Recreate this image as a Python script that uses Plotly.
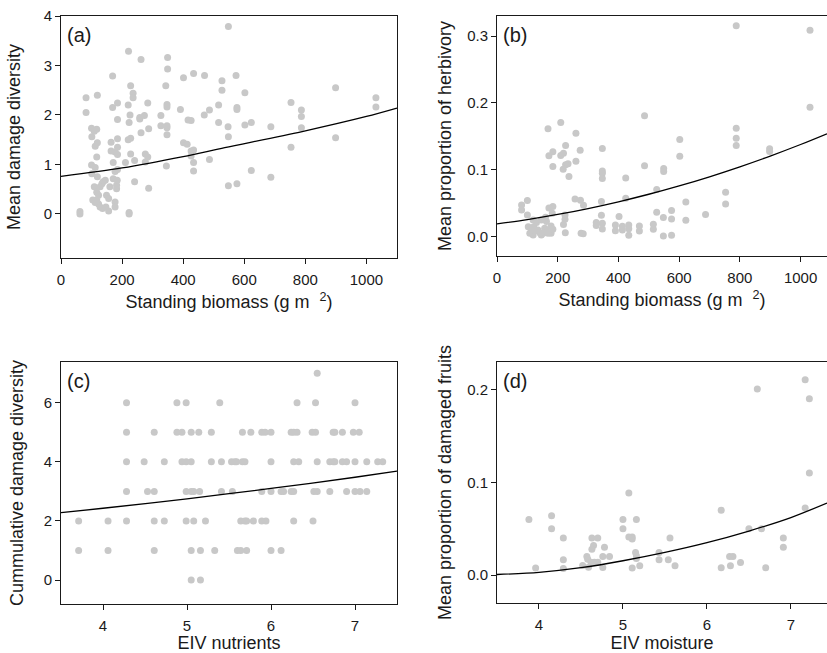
import plotly.graph_objects as go

# ---------------- Panel (a): mean damage diversity vs standing biomass
a_x = [548, 221, 262, 349, 349, 169, 82, 119, 228, 236, 236, 343, 401, 434, 470, 527, 527, 573, 602,
       82, 169, 185, 220, 284, 347, 347, 391, 486, 516, 576, 576, 185, 223, 226, 258, 258, 273, 327,
       416, 426, 469, 516, 602, 623, 547, 687, 753, 787, 787, 787, 899, 1031, 1031, 899, 753, 548,
       327, 347, 347, 347, 287, 262, 220, 228, 185, 164, 185, 164, 177, 185, 171, 177, 185, 211, 228,
       241, 276, 276, 284, 345, 401, 413, 426, 434, 426, 434, 434, 486, 623, 687, 548, 576, 241, 287,
       223, 223, 62, 62, 100, 109, 117, 101, 119, 112, 100, 112, 117, 101, 119, 109, 117, 123, 104,
       112, 123, 128, 136, 147, 156, 138, 145, 134, 160, 149, 156, 177, 177, 182, 182, 184, 171, 128, 117]
a_y = [3.79, 3.29, 3.12, 3.16, 2.93, 2.79, 2.35, 2.40, 2.59, 2.44, 2.35, 2.59, 2.75, 2.84, 2.80, 2.69, 2.50, 2.80, 2.45,
       2.05, 2.15, 2.24, 2.20, 2.24, 2.16, 2.21, 2.11, 2.10, 2.20, 2.15, 2.11, 1.91, 1.85, 2.00, 1.92, 1.95, 1.99, 1.99,
       1.90, 1.89, 2.00, 1.85, 1.80, 1.85, 1.76, 1.76, 2.25, 2.10, 1.97, 1.74, 2.55, 2.35, 2.16, 1.54, 1.35, 1.56,
       1.78, 1.74, 1.60, 1.78, 1.72, 1.64, 1.50, 1.53, 1.52, 1.45, 1.35, 1.27, 1.25, 1.20, 1.04, 0.86, 0.90, 1.04, 1.21,
       1.08, 1.21, 1.05, 1.15, 0.97, 1.44, 1.41, 1.27, 1.29, 1.17, 1.04, 0.87, 1.10, 0.88, 0.74, 0.57, 0.61, 0.65, 0.52,
       0.03, 0.00, 0.05, 0.00, 1.73, 1.67, 1.71, 1.56, 1.44, 1.37, 0.99, 0.94, 1.15, 0.81, 0.75, 0.55, 0.44, 0.38, 0.28,
       0.23, 0.20, 0.14, 0.11, 0.14, 0.06, 0.65, 0.68, 0.61, 0.55, 0.38, 0.31, 0.24, 0.14, 0.51, 0.58, 0.68, 0.71, 0.55, 0.28]
a_fit_x = [0, 200, 400, 536, 786, 1000, 1100]
a_fit_y = [0.76, 0.93, 1.16, 1.34, 1.66, 1.97, 2.14]

# ---------------- Panel (b): mean proportion of herbivory vs standing biomass
b_x = [788, 1031, 1031, 788, 788, 788, 898, 898, 753, 753, 687, 622, 622, 602, 602, 575, 575, 575, 548, 548,
       549, 549, 526, 526, 515, 515, 486, 486, 469, 469, 434, 434, 434, 413, 413, 424, 424, 402, 390, 390,
       347, 347, 347, 347, 344, 344, 347, 347, 327, 327, 285, 275, 257, 277, 284, 260, 274, 260, 234, 226,
       237, 226, 210, 219, 210, 218, 168, 171, 184, 184, 224, 224, 219, 225, 184, 171, 182, 178, 178, 184,
       81, 81, 100, 100, 119, 119, 130, 146, 146, 157, 163, 163, 114, 121, 135, 108, 152, 168, 141, 124, 103, 160]
b_y = [0.3155, 0.3085, 0.1935, 0.162, 0.147, 0.136, 0.131, 0.127, 0.066, 0.0485, 0.0325, 0.0515, 0.024, 0.145, 0.12,
       0.0385, 0.026, 0.0015, 0.028, 0.0005, 0.1015, 0.097, 0.07, 0.036, 0.018, 0.0105, 0.1805, 0.1055, 0.0155, 0.008,
       0.017, 0.0115, 0.0015, 0.015, 0.0095, 0.0875, 0.057, 0.0295, 0.017, 0.0085, 0.1315, 0.098, 0.0945, 0.0865,
       0.052, 0.0315, 0.0195, 0.011, 0.0205, 0.016, 0.0465, 0.054, 0.056, 0.0045, 0.004, 0.1545, 0.129, 0.1125,
       0.1085, 0.107, 0.0895, 0.136, 0.1705, 0.1245, 0.121, 0.1005, 0.161, 0.1205, 0.1265, 0.1045, 0.032, 0.0255,
       0.0175, 0.0055, 0.0445, 0.0425, 0.0345, 0.0155, 0.0045, 0.0105, 0.047, 0.0395, 0.0535, 0.032, 0.0245, 0.002,
       0.0205, 0.0245, 0.002, 0.012, 0.022, 0.0095, 0.0095, 0.0145, 0.0095, 0.0045, 0.0045, 0.0045, 0.0055, 0.008,
       0.0145, 0.0285]
b_fit_x = [0, 100, 200, 300, 400, 500, 600, 700, 800, 900, 1000, 1087]
b_fit_y = [0.0185, 0.0250, 0.0327, 0.0416, 0.0517, 0.0630, 0.0755, 0.0892, 0.1041, 0.1202, 0.1375, 0.1536]

# ---------------- Panel (c): cumulative damage diversity vs EIV nutrients
c_x = [6.55,
       4.28, 4.88, 4.99, 5.39, 6.31, 6.53, 7.00,
       4.28, 4.61, 4.88, 4.94, 5.05, 5.14, 5.29, 5.66, 5.76, 5.89, 5.93, 6.00, 6.24, 6.27, 6.31, 6.49, 6.53,
       6.74, 6.76, 6.85, 6.98, 7.05,
       4.28, 4.49, 4.73, 4.94, 4.99, 5.05, 5.29, 5.41, 5.53, 5.57, 5.59, 5.66, 5.69, 6.00, 6.27, 6.33, 6.55,
       6.70, 6.74, 6.76, 6.85, 6.90, 7.00, 7.14, 7.27, 7.33,
       4.28, 4.53, 4.61, 4.99, 5.05, 5.08, 5.15, 5.41, 5.54, 5.89, 6.00, 6.12, 6.15, 6.24, 6.27, 6.51, 6.55,
       6.70, 6.90, 7.00, 7.06, 7.14,
       3.71, 4.06, 4.28, 4.61, 4.73, 4.99, 5.08, 5.22, 5.64, 5.69, 5.71, 5.79, 5.89, 5.94, 6.27, 6.50,
       3.71, 4.06, 4.61, 5.05, 5.16, 5.33, 5.60, 5.64, 5.71, 6.00, 6.12,
       5.05, 5.16]
c_y = [7,
       6, 6, 6, 6, 6, 6, 6,
       5, 5, 5, 5, 5, 5, 5, 5, 5, 5, 5, 5, 5, 5, 5, 5, 5, 5, 5, 5, 5, 5,
       4, 4, 4, 4, 4, 4, 4, 4, 4, 4, 4, 4, 4, 4, 4, 4, 4, 4, 4, 4, 4, 4, 4, 4, 4, 4,
       3, 3, 3, 3, 3, 3, 3, 3, 3, 3, 3, 3, 3, 3, 3, 3, 3, 3, 3, 3, 3, 3,
       2, 2, 2, 2, 2, 2, 2, 2, 2, 2, 2, 2, 2, 2, 2, 2,
       1, 1, 1, 1, 1, 1, 1, 1, 1, 1, 1,
       0, 0]
c_fit_x = [3.5, 4.0, 5.0, 6.0, 7.0, 7.5]
c_fit_y = [2.28, 2.43, 2.75, 3.10, 3.48, 3.69]

# ---------------- Panel (d): mean proportion of damaged fruits vs EIV moisture
d_x = [7.17, 6.60, 7.22, 7.22, 7.17, 6.17, 6.65, 6.50, 6.91, 6.91, 6.40, 6.27, 6.31, 6.28, 6.17, 6.70,
       5.07, 5.00, 5.16, 5.00, 5.07, 5.11, 5.11, 5.15, 5.16, 5.16, 5.20, 5.11, 5.56, 5.43, 5.43, 5.54, 5.62,
       3.88, 3.96, 4.15, 4.15, 4.29, 4.29, 4.29, 4.63, 4.70, 4.65, 4.63, 4.78, 4.76, 4.84, 4.57, 4.58, 4.62,
       4.66, 4.70, 4.52, 4.59, 4.76]
d_y = [0.2104, 0.2004, 0.190, 0.110, 0.0723, 0.070, 0.050, 0.050, 0.040, 0.030, 0.0137, 0.020, 0.020, 0.010,
       0.008, 0.008, 0.0885, 0.060, 0.060, 0.050, 0.041, 0.041, 0.039, 0.0245, 0.021, 0.018, 0.010, 0.0076,
       0.040, 0.0245, 0.0165, 0.0165, 0.010, 0.060, 0.0076, 0.064, 0.050, 0.040, 0.0165, 0.0072, 0.040, 0.040,
       0.032, 0.028, 0.030, 0.020, 0.020, 0.020, 0.017, 0.014, 0.014, 0.014, 0.0104, 0.0086, 0.0083]
d_fit_x = [3.5, 4.0, 4.5, 5.0, 5.5, 6.0, 6.5, 7.0, 7.43]
d_fit_y = [0.0007, 0.0030, 0.0080, 0.0155, 0.0245, 0.0350, 0.0475, 0.0620, 0.0776]

W, H = 827, 653
FONT = "Arial, Liberation Sans, Helvetica, sans-serif"
DOT = "#c8c8c8"
INK = "#1a1a1a"


def xd(p0, p1):
    return [p0 / W, p1 / W]


def yd(top, bottom):
    return [1 - bottom / H, 1 - top / H]


panels = [
    # xs, ys, fitx, fity, xdomain, ydomain, xrange, yrange, xticks, yticks, yfmt, xtitle, ytitle, label, ymirror, ystandoff
    (a_x, a_y, a_fit_x, a_fit_y, xd(61, 397), yd(16, 258), [0, 1100], [-0.89, 4.0],
     [0, 200, 400, 600, 800, 1000], [0, 1, 2, 3, 4], "", "Standing biomass (g m\u00a0\u00a0<sup>2</sup>)",
     "Mean damage diversity", "(a)", True, 18),
    (b_x, b_y, b_fit_x, b_fit_y, xd(497, 827), yd(16, 256), [0, 1087], [-0.0295, 0.33],
     [0, 200, 400, 600, 800, 1000], [0.0, 0.1, 0.2, 0.3], ".1f", "Standing biomass (g m\u00a0\u00a0<sup>2</sup>)",
     "Mean proportion of herbivory", "(b)", False, 10),
    (c_x, c_y, c_fit_x, c_fit_y, xd(61, 397), yd(362, 604), [3.5, 7.5], [-0.81, 7.38],
     [4, 5, 6, 7], [0, 2, 4, 6], "", "EIV nutrients", "Cummulative damage diversity", "(c)", True, 15),
    (d_x, d_y, d_fit_x, d_fit_y, xd(497, 827), yd(362, 603), [3.5, 7.43], [-0.030, 0.2295],
     [4, 5, 6, 7], [0.0, 0.1, 0.2], ".1f", "EIV moisture", "Mean proportion of damaged fruits", "(d)", False, 10),
]

fig = go.Figure()
layout = dict(
    width=W, height=H, margin=dict(l=0, r=0, t=0, b=0),
    paper_bgcolor="white", plot_bgcolor="white", showlegend=False,
    font=dict(family=FONT, size=15, color=INK),
)
annotations = []

for i, (xs, ys, fx, fy, xdom, ydom, xr, yr, xt, yt, yfmt, xtitle, ytitle, lab, ymir, ystand) in enumerate(panels):
    n = "" if i == 0 else str(i + 1)
    xa, ya = "x" + n, "y" + n
    fig.add_trace(go.Scatter(x=xs, y=ys, mode="markers", xaxis=xa, yaxis=ya,
                             marker=dict(color=DOT, size=7, line=dict(width=0)), hoverinfo="skip"))
    fig.add_trace(go.Scatter(x=fx, y=fy, mode="lines", xaxis=xa, yaxis=ya,
                             line=dict(color="black", width=1.3, shape="spline", smoothing=0.8),
                             hoverinfo="skip"))
    common = dict(showgrid=False, zeroline=False, showline=True, linecolor=INK, linewidth=1,
                  ticks="outside", ticklen=5, tickwidth=1, tickcolor=INK,
                  tickfont=dict(family=FONT, size=15, color=INK), automargin=False)
    layout["xaxis" + n] = dict(common, domain=xdom, range=xr, tickvals=xt, anchor=ya, mirror=True,
                               ticklabelstandoff=3,
                               title=dict(text=xtitle, font=dict(family=FONT, size=18, color=INK), standoff=8))
    layout["yaxis" + n] = dict(common, domain=ydom, range=yr, tickvals=yt, anchor=xa, mirror=ymir,
                               tickformat=yfmt,
                               title=dict(text=ytitle, font=dict(family=FONT, size=18, color=INK), standoff=ystand))
    annotations.append(dict(text=lab, xref=xa + " domain", yref=ya + " domain", x=0, y=1,
                            xanchor="left", yanchor="top", xshift=4, yshift=-6, showarrow=False,
                            font=dict(family=FONT, size=20, color=INK)))

layout["annotations"] = annotations
fig.update_layout(**layout)
fig.write_html("out.html")
